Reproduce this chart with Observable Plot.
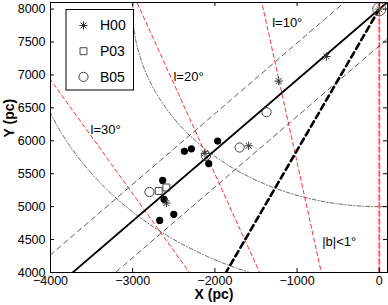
<!DOCTYPE html>
<html><head><meta charset="utf-8">
<script src="https://cdn.jsdelivr.net/npm/d3@7"></script>
<script src="https://cdn.jsdelivr.net/npm/@observablehq/plot@0.6"></script>
<style>
body{margin:0;background:#fff}
#chart{position:relative;width:388px;height:305px}
svg text{font-family:"Liberation Sans",Arial,sans-serif}
</style>
</head><body><div id="chart"></div>
<script>
// ---- data ----
const gcPos = [{x: 0, y: 8000}];
const sunPos = {x: 0, y: 0};
const longitudes = [0, 10, 20, 30];
const ringRadii = [3000, 4300];
const longBarAngle = 43;
const barHalfWidth = 380;
const cobeBarAngle = 25;
const filledX = [-2371, -2286, -1966, -2075, -2635, -2618, -2500, -2672];
const filledY = [5840, 5878, 5995, 5654, 5398, 5111, 4883, 4791];
const h00X = [-644, -1224, -2122, -1589, -2590];
const h00Y = [7280, 6907, 5809, 5924, 5055];
const p03X = [-2683, -2590];
const p03Y = [5238, 5291];
const b05X = [-2796, -1699, -1371, -2109];
const b05Y = [5223, 5898, 6434, 5771];
const xTicks = [-4000, -3000, -2000, -1000, 0];
const yTicks = [4000, 4500, 5000, 5500, 6000, 6500, 7000, 7500, 8000];
const annText = ["l=10°", "l=20°", "l=30°", "|b|<1°"];
const annX = [-1303, -2504, -3513, -695];
const annY = [7788, 6975, 6162, 4467];
const legendNames = ["H00", "P03", "B05"];

// ---- derived tables ----
const zip = (xs, ys) => xs.map((x, i) => ({x, y: ys[i]}));
const filled = zip(filledX, filledY);
const h00 = zip(h00X, h00Y);
const p03 = zip(p03X, p03Y);
const b05 = zip(b05X, b05Y);
const ann = annText.map((t, i) => ({text: t, x: annX[i], y: annY[i]}));
const rad = d => d * Math.PI / 180;
const gc = gcPos[0];
const lonLines = longitudes.flatMap(l => [
  {l, x: sunPos.x, y: sunPos.y},
  {l, x: sunPos.x - 12000 * Math.sin(rad(l)), y: sunPos.y + 12000 * Math.cos(rad(l))}
]);
const rings = ringRadii.flatMap(R => d3.range(0, 361, 1).map(t => ({R, x: gc.x + R * Math.sin(rad(t)), y: gc.y - R * Math.cos(rad(t))})));
function barLine(angle, offset, id, oneSided) {
  const dx = -Math.sin(rad(angle)), dy = -Math.cos(rad(angle));
  const nx = -Math.cos(rad(angle)), ny = Math.sin(rad(angle));
  const ox = gc.x + nx * offset, oy = gc.y + ny * offset;
  const a = oneSided ? 0 : -8000;
  return [{id, x: ox + dx * a, y: oy + dy * a}, {id, x: ox + dx * 9000, y: oy + dy * 9000}];
}
const barMain = barLine(longBarAngle, 0, "main", false);
const barEdges = [...barLine(longBarAngle, barHalfWidth, "up", false), ...barLine(longBarAngle, -barHalfWidth, "lo", false)];
const cobe = barLine(cobeBarAngle, 0, "cobe", true);

// 8-armed asterisk symbol
const star8 = {draw(ctx, size) {
  const r = Math.sqrt(size / Math.PI);
  for (let k = 0; k < 4; k++) {
    const a = k * Math.PI / 4;
    ctx.moveTo(-r * Math.cos(a), -r * Math.sin(a));
    ctx.lineTo(r * Math.cos(a), r * Math.sin(a));
  }
}};
const fmt = d => d < 0 ? "\u2212" + Math.abs(d) : String(d);

const W = 388, H = 305, mL = 50, mR = 1, mT = 2, mB = 33;
const frameH = H - mT - mB, frameW = W - mL - mR;
const font = 13;

const plot = Plot.plot({
  width: W, height: H,
  marginLeft: mL, marginRight: mR, marginTop: mT, marginBottom: mB,
  style: {fontFamily: '"Liberation Sans", Arial, sans-serif', fontSize: font + "px", background: "white"},
  x: {domain: [-4000, 100], axis: null},
  y: {domain: [4000, 8100], axis: null},
  marks: [
    Plot.line(rings, {x: "x", y: "y", z: "R", stroke: "#444", strokeWidth: 0.8, strokeDasharray: "4,2,1,2", clip: true}),
    Plot.line(lonLines.filter(d => d.l !== 0), {x: "x", y: "y", z: "l", stroke: "#ff3030", strokeWidth: 1, strokeDasharray: "4,3", clip: true}),
    Plot.line(lonLines.filter(d => d.l === 0), {x: "x", y: "y", z: "l", stroke: "#ff6060", strokeWidth: 2, strokeDasharray: "5,3", clip: true}),
    Plot.line(barEdges, {x: "x", y: "y", z: "id", stroke: "#333", strokeWidth: 0.8, strokeDasharray: "5,4", clip: true}),
    Plot.line(cobe, {x: "x", y: "y", stroke: "black", strokeWidth: 2.6, strokeDasharray: "6,4", clip: true}),
    Plot.line(barMain, {x: "x", y: "y", stroke: "black", strokeWidth: 1.8, clip: true}),
    Plot.dot(filled, {x: "x", y: "y", r: 3.6, fill: "black"}),
    Plot.dot(p03, {x: "x", y: "y", symbol: "square", r: 3.9, stroke: "#444", strokeWidth: 1, fill: "none"}),
    Plot.dot(b05, {x: "x", y: "y", r: 4.6, stroke: "#444", strokeWidth: 1, fill: "none"}),
    Plot.dot(h00, {x: "x", y: "y", symbol: star8, r: 4.2, stroke: "#333", strokeWidth: 1}),
    Plot.dot(gcPos, {x: "x", y: "y", r: 6.5, stroke: "#555", strokeWidth: 1, fill: "none"}),
    Plot.dot(gcPos, {x: "x", y: "y", symbol: star8, r: 4.2, stroke: "#555", strokeWidth: 1}),
    Plot.text(ann, {x: "x", y: "y", text: "text", textAnchor: "start", fontSize: font, fill: "black"}),
    // ticks (inward, all sides)
    Plot.tickX(xTicks, {x: d => d, insetTop: frameH - 4, stroke: "black"}),
    Plot.tickX(xTicks, {x: d => d, insetBottom: frameH - 4, stroke: "black"}),
    Plot.tickY(yTicks, {y: d => d, insetRight: frameW - 4, stroke: "black"}),
    Plot.tickY(yTicks, {y: d => d, insetLeft: frameW - 4, stroke: "black"}),
    Plot.axisX({ticks: xTicks, anchor: "bottom", tickSize: 0, tickPadding: 4, fontSize: 12.5, fill: "black", tickFormat: fmt, label: null}),
    Plot.axisY({ticks: yTicks, anchor: "left", tickSize: 0, tickPadding: 5, fontSize: 12.5, fill: "black", tickFormat: fmt, label: null}),
    Plot.frame({stroke: "black", strokeWidth: 1}),
    Plot.text(["X (pc)"], {frameAnchor: "bottom", dy: 26, dx: -5, fontWeight: "bold", fontSize: 14, text: d => d}),
    Plot.text(["Y (pc)"], {frameAnchor: "left", rotate: -90, dx: -41, fontWeight: "bold", fontSize: 14, text: d => d})
  ]
});
document.getElementById("chart").appendChild(plot);

// legend inside the axes
const svg = d3.select(plot);
const lg = svg.append("g").attr("transform", "translate(66,9.5)");
lg.append("rect").attr("width", 67.5).attr("height", 80.5).attr("fill", "white").attr("stroke", "black").attr("stroke-width", 1);
const symFns = [
  g => g.append("path").attr("d", d3.symbol(star8, Math.PI * 4.2 * 4.2)()).attr("stroke", "#333").attr("fill", "none"),
  g => g.append("path").attr("d", d3.symbol(d3.symbolSquare, Math.PI * 3.9 * 3.9)()).attr("stroke", "#444").attr("fill", "none"),
  g => g.append("circle").attr("r", 4.6).attr("stroke", "#444").attr("fill", "none")
];
legendNames.forEach((name, i) => {
  const row = lg.append("g").attr("transform", `translate(17.5,${16 + i * 25.7})`);
  symFns[i](row);
  row.append("text").attr("x", 16.5).attr("y", 0).attr("dy", "0.35em").attr("text-anchor", "start")
    .attr("font-size", 14).attr("fill", "black").text(name);
});
</script>
</body></html>
